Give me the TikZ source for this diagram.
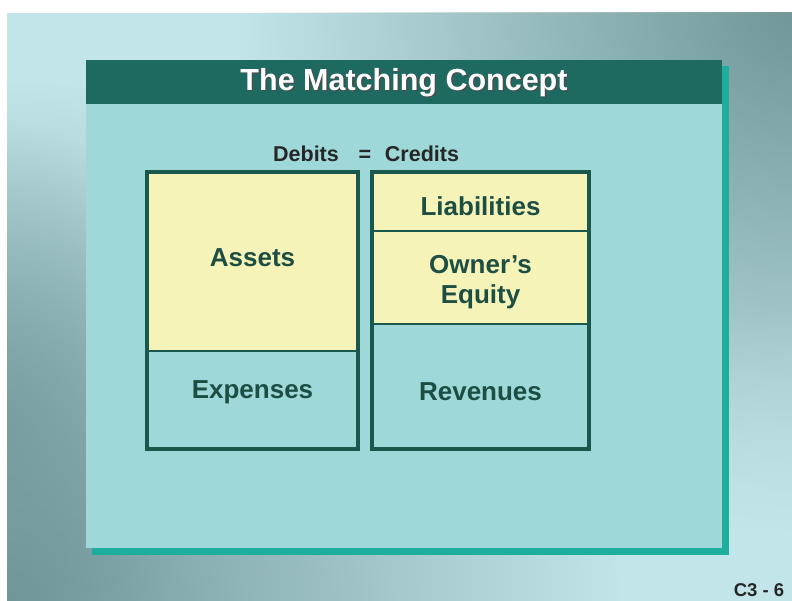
\documentclass[tikz,border=0pt]{standalone}
\usepackage{fontspec}
\setmainfont{Liberation Sans}
\usetikzlibrary{fadings}
\tikzfading[name=softblob, inner color=transparent!0, outer color=transparent!100]
\definecolor{bglight}{RGB}{194,229,233}
\definecolor{bgdark}{RGB}{112,150,153}
\definecolor{panelfill}{RGB}{158,216,216}
\definecolor{barfill}{RGB}{30,106,96}
\definecolor{shadowteal}{RGB}{30,174,158}
\definecolor{cellyellow}{RGB}{246,243,184}
\definecolor{cellline}{RGB}{26,88,78}
\definecolor{celltext}{RGB}{28,78,68}
\begin{document}
\begin{tikzpicture}[x=1pt,y=-1pt,
  celltxt/.style={text=celltext, font=\bfseries\fontsize{26}{30}\selectfont, align=center, inner sep=0pt},
  divider/.style={draw=cellline, line width=2.5pt},
  boxframe/.style={draw=cellline, line width=4pt},
  eqtxt/.style={text=black!85, font=\bfseries\fontsize{21.5}{24}\selectfont, inner sep=0pt, anchor=base},
  titletxt/.style={font=\bfseries\fontsize{30.5}{34}\selectfont, inner sep=0pt}]
\useasboundingbox (0,0) rectangle (792,601);
% background
\fill[white] (0,0) rectangle (792,601);
\begin{scope}
\clip (7,13) rectangle (792,601);
\fill[bglight] (7,13) rectangle (792,601);
\fill[bgdark, path fading=softblob] (800,10) ellipse (560 and 520);
\fill[bgdark, path fading=softblob] (0,600) ellipse (620 and 520);
\fill[bgdark, path fading=softblob, opacity=0.7] (0,420) ellipse (200 and 300);
\fill[bglight, path fading=softblob, opacity=0.8] (792,601) ellipse (260 and 300);
\end{scope}
% panel
\fill[shadowteal] (92,66) rectangle (729,555);
\fill[panelfill] (86,104) rectangle (722,548);
\fill[barfill] (86,60) rectangle (722,104);
\node[titletxt, text=black!70] at (405.5,84) {The Matching Concept};
\node[titletxt, text=white] (title) at (404,82.5) {The Matching Concept};
% Debits = Credits
\node[eqtxt] (debits) at (306,162) {Debits};
\node[eqtxt] (eq) at (365,162) {=};
\node[eqtxt] (credits) at (422,162) {Credits};
% left box
\fill[cellyellow] (147,172) rectangle (358,351);
\draw[divider] (147,351) -- (358,351);
\draw[boxframe] (147,172) rectangle (358,449);
% right box
\fill[cellyellow] (372,172) rectangle (589,324);
\draw[divider] (372,231) -- (589,231);
\draw[divider] (372,324) -- (589,324);
\draw[boxframe] (372,172) rectangle (589,449);
% cell labels
\node[celltxt] (assets) at (252.5,258) {Assets};
\node[celltxt] (expenses) at (252.5,392) {Expenses};
\node[celltxt] (liab) at (480.5,206) {Liabilities};
\node[celltxt] (equity) at (480.5,282) {Owner's\\Equity};
\node[celltxt] (rev) at (480.5,392) {Revenues};
% slide number
\node[text=black!85, font=\bfseries\fontsize{18.5}{21}\selectfont, inner sep=0pt] (num) at (759,590) {C3 - 6};
\end{tikzpicture}
\end{document}
